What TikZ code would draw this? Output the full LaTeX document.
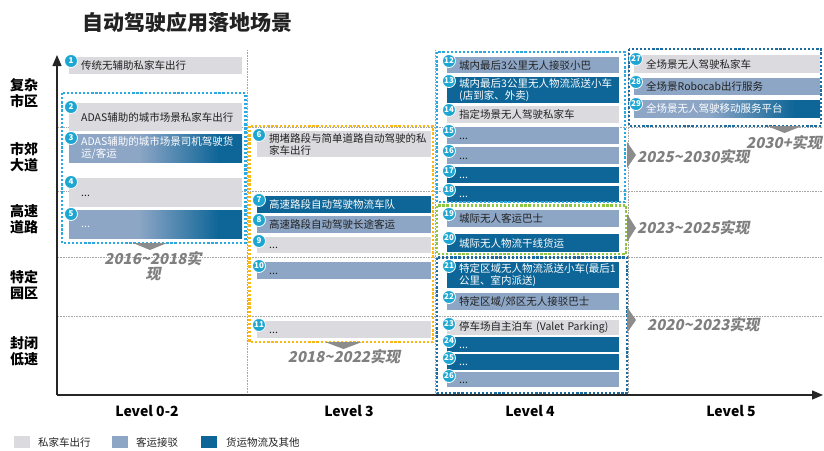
\documentclass[tikz,border=0pt]{standalone}
\usepackage{fontspec}
\setmainfont{Noto Sans CJK SC}
\newfontfamily\yearfont{Noto Sans CJK SC}[FakeSlant=0.2]
\usetikzlibrary{arrows.meta}
\definecolor{privc}{HTML}{DADADF}
\definecolor{passc}{HTML}{8DA6C6}
\definecolor{frc}{HTML}{0E6698}
\definecolor{badgec}{HTML}{1DA6D1}
\definecolor{cyanf}{HTML}{2AA8DF}
\definecolor{darkf}{HTML}{1B6CA3}
\definecolor{orangef}{HTML}{FBB715}
\definecolor{greenf}{HTML}{8DC63F}
\definecolor{trig}{HTML}{8C8C8C}
\definecolor{yeartxt}{HTML}{7F7F7F}
\definecolor{txt}{HTML}{222222}
\pgfdeclarehorizontalshading{mixshade}{100bp}{color(0bp)=(passc); color(45bp)=(passc); color(68bp)=(frc); color(100bp)=(frc)}
\newcommand\dph{\vphantom{国}}
\begin{document}
\begin{tikzpicture}[x=1pt,y=-1pt,
  sbox/.style={anchor=north west, inner xsep=12pt, inner ysep=0pt, align=left, text=txt,
     font=\fontsize{10.5}{12}\selectfont},
  col1/.style={text width=149pt},
  col3/.style={text width=150pt},
  col4/.style={text width=148pt},
  col5/.style={text width=162pt},
  pv/.style={fill=privc},
  ps/.style={fill=passc},
  fr/.style={fill=frc, text=white},
  gr/.style={shading=mixshade, text=white},
  badge/.style={circle, fill=badgec, draw=white, line width=0.8pt, minimum size=13pt, inner sep=0.3pt,
     text=white, font=\bfseries\fontsize{8}{8}\selectfont},
  grid/.style={draw=gray!70, line width=0.5pt, dash pattern=on 0.8pt off 0.8pt},
  dbox/.style={line width=2.3pt, dash pattern=on 2.3pt off 1.8pt},
  rowlab/.style={align=center, font=\bfseries\fontsize{14}{16}\selectfont, text=black},
  levlab/.style={font=\bfseries\fontsize{14}{16}\selectfont, text=black},
  yearlab/.style={text=yeartxt, font=\yearfont\bfseries\fontsize{15}{15}\selectfont, inner sep=0pt},
  leglab/.style={anchor=west, text=txt, font=\fontsize{10.5}{12}\selectfont, inner sep=0pt},
  legsq/.style={anchor=west, minimum width=16pt, minimum height=12pt, inner sep=0pt}
]
\useasboundingbox (0,0) rectangle (824,450);

% title
\node[anchor=west, font=\bfseries\fontsize{21}{23}\selectfont, text=txt, inner sep=0pt] (title) at (82,22) {自动驾驶应用落地场景};

% grid lines
\foreach \yy in {127,191,257,316} {\draw[grid] (58,\yy) -- (822,\yy);}
\foreach \xx in {247,435,628} {\draw[grid] (\xx,50) -- (\xx,395);}

% axes
\coordinate (O) at (57,395);
\coordinate (Ytop) at (57,55);
\coordinate (Xend) at (823,395);
\draw[line width=1.3pt, draw=black!85, -{Triangle[length=11pt,width=9pt]}] (O) -- (Ytop);
\draw[line width=1.3pt, draw=black!85, -{Triangle[length=11pt,width=9pt]}] (O) -- (Xend);

% row labels
\node[rowlab] (r1) at (24,93) {复杂\\市区};
\node[rowlab] (r2) at (24,157) {市郊\\大道};
\node[rowlab] (r3) at (24,219) {高速\\道路};
\node[rowlab] (r4) at (24,285) {特定\\园区};
\node[rowlab] (r5) at (24,351) {封闭\\低速};

% level labels
\node[levlab] (L1) at (147,411) {Level 0-2};
\node[levlab] (L2) at (349,411) {Level 3};
\node[levlab] (L3) at (530,411) {Level 4};
\node[levlab] (L4) at (731,411) {Level 5};

% ---- Level 0-2 boxes
\node[sbox,col1,pv,minimum height=17pt] (b1) at (69,57) {传统无辅助私家车出行};
\node[sbox,col1,pv,minimum height=28pt] (b2) at (69,103) {ADAS辅助的城市场景私家车出行};
\node[sbox,col1,gr,minimum height=28pt] (b3) at (69,134) {ADAS辅助的城市场景司机驾驶货\\运/客运};
\node[sbox,col1,pv,minimum height=29pt] (b4) at (69,178) {\dph...};
\node[sbox,col1,gr,minimum height=28pt] (b5) at (69,210) {\dph...};

% ---- Level 3 boxes
\node[sbox,col3,pv,minimum height=26pt] (b6) at (257,131) {拥堵路段与简单道路自动驾驶的私\\家车出行};
\node[sbox,col3,fr,minimum height=17pt] (b7) at (257,196) {高速路段自动驾驶物流车队};
\node[sbox,col3,ps,minimum height=17pt] (b8) at (257,216) {高速路段自动驾驶长途客运};
\node[sbox,col3,pv,minimum height=16pt] (b9) at (257,237) {\dph...};
\node[sbox,col3,ps,minimum height=17pt] (b10) at (257,262) {\dph...};
\node[sbox,col3,pv,minimum height=17pt] (b11) at (257,321) {\dph...};

% ---- Level 4 boxes
\node[sbox,col4,ps,minimum height=16pt] (b12) at (447,57) {城内最后3公里无人接驳小巴};
\node[sbox,col4,fr,minimum height=26pt] (b13) at (447,77) {城内最后3公里无人物流派送小车\\(店到家、外卖)};
\node[sbox,col4,pv,minimum height=17pt] (b14) at (447,106) {指定场景无人驾驶私家车};
\node[sbox,col4,ps,minimum height=17pt] (b15) at (447,127) {\dph...};
\node[sbox,col4,ps,minimum height=17pt] (b16) at (447,147) {\dph...};
\node[sbox,col4,fr,minimum height=16pt] (b17) at (447,167) {\dph...};
\node[sbox,col4,fr,minimum height=16pt] (b18) at (447,186) {\dph...};
\node[sbox,col4,ps,minimum height=17pt] (b19) at (447,210) {城际无人客运巴士};
\node[sbox,col4,fr,minimum height=18pt] (b20) at (447,234) {城际无人物流干线货运};
\node[sbox,col4,fr,minimum height=26pt] (b21) at (447,262) {特定区域无人物流派送小车(最后1\\公里、室内派送)};
\node[sbox,col4,ps,minimum height=17pt] (b22) at (447,293) {特定区域/郊区无人接驳巴士};
\node[sbox,col4,pv,minimum height=15pt] (b23) at (447,320) {\mbox{停车场自主泊车 (Valet Parking)}};
\node[sbox,col4,fr,minimum height=15pt] (b24) at (447,337) {\dph...};
\node[sbox,col4,fr,minimum height=16pt] (b25) at (447,354) {\dph...};
\node[sbox,col4,ps,minimum height=15pt] (b26) at (447,372) {\dph...};

% ---- Level 5 boxes
\node[sbox,col5,pv,minimum height=18pt] (b27) at (634,55) {全场景无人驾驶私家车};
\node[sbox,col5,ps,minimum height=17pt] (b28) at (634,78) {全场景Robocab出行服务};
\node[sbox,col5,gr,minimum height=17pt] (b29) at (634,100) {全场景无人驾驶移动服务平台};

% ---- dotted frames
\draw[dbox, draw=cyanf] (62,93) rectangle (245.5,243);
\draw[dbox, draw=orangef] (249.5,126) rectangle (433,342);
\draw[dbox, draw=cyanf] (437,52) rectangle (625,202);
\draw[dbox, draw=greenf] (437,205.5) rectangle (626,254);
\draw[dbox, draw=darkf] (437,257.5) rectangle (627,393);
\draw[dbox, draw=darkf] (629,49) rectangle (821,126);

% ---- badges
\foreach \i in {1,...,29} {
  \node[badge, xshift=2pt, yshift=-4pt] (n\i) at (b\i.north west) {\i};
}

% ---- triangles
\fill[trig] (133,243) -- (167,243) -- (150,250) -- cycle;
\fill[trig] (325,342) -- (362,342) -- (343.5,349) -- cycle;
\fill[trig] (767,126) -- (802,126) -- (784.5,133) -- cycle;
\fill[trig] (627,142) -- (636,155) -- (627,168) -- cycle;
\fill[trig] (627,214) -- (636,228) -- (627,242) -- cycle;
\fill[trig] (627,307) -- (636,320) -- (627,333) -- cycle;

% ---- year labels
\node[yearlab, align=center] (y1) at (153,266) {2016\textasciitilde 2018实\\现};
\node[yearlab] (y2) at (344,357) {2018\textasciitilde 2022实现};
\node[yearlab, anchor=west] (y3) at (637,157) {2025\textasciitilde 2030实现};
\node[yearlab, anchor=west] (y4) at (637,228) {2023\textasciitilde 2025实现};
\node[yearlab, anchor=west] (y5) at (647,325) {2020\textasciitilde 2023实现};
\node[yearlab, anchor=east] (y6) at (822,143) {2030+实现};

% ---- legend
\node[legsq, fill=privc] (q1) at (14,442) {};
\node[leglab] (t1) at (38,442) {私家车出行};
\node[legsq, fill=passc] (q2) at (112,442) {};
\node[leglab] (t2) at (136,442) {客运接驳};
\node[legsq, fill=frc] (q3) at (201,442) {};
\node[leglab] (t3) at (226,442) {货运物流及其他};
\end{tikzpicture}
\end{document}
